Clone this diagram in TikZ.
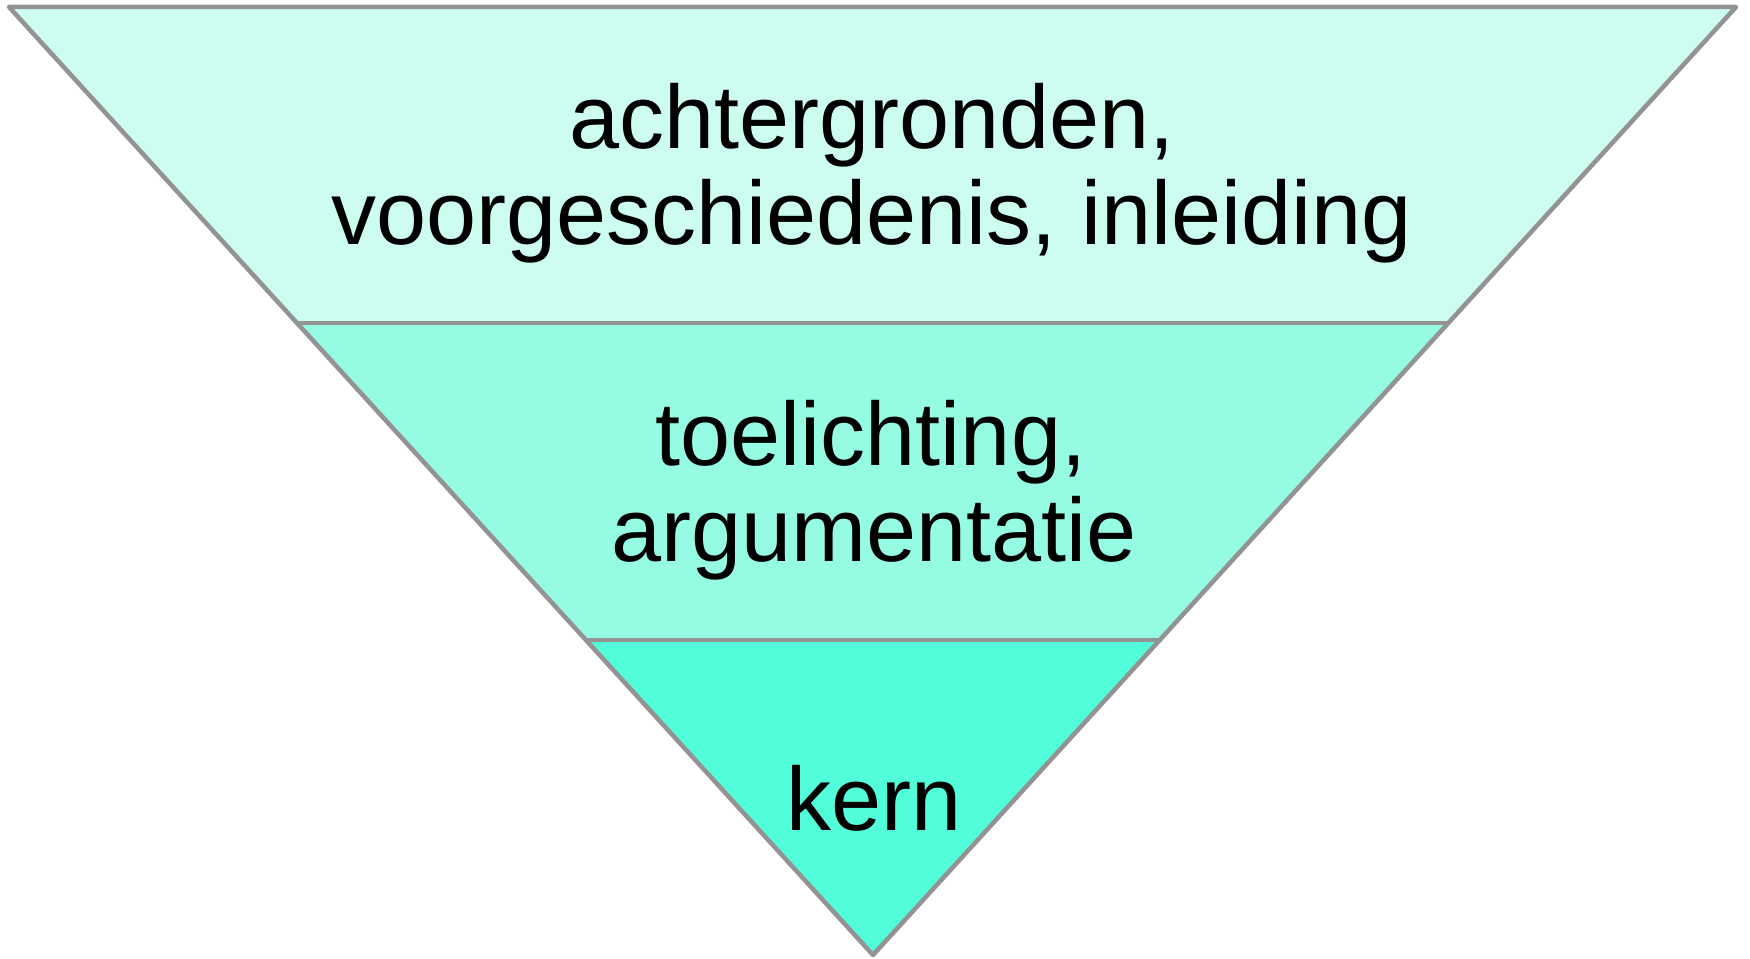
\documentclass[tikz,border=0pt]{standalone}
\usepackage{fontspec}
\setmainfont{Liberation Sans}
\definecolor{bandA}{HTML}{CCFDF0}
\definecolor{bandB}{HTML}{95FCE3}
\definecolor{bandC}{HTML}{52FDDA}
\definecolor{edge}{HTML}{939393}
\begin{document}
\begin{tikzpicture}[x=1pt,y=-1pt,
  outline/.style={draw=edge,line width=4.5pt,line join=round,line cap=round},
  label/.style={anchor=base,inner sep=0pt,font=\fontsize{90}{96}\selectfont,text=black}]
\useasboundingbox (0,0) rectangle (1750,958);
% corner coordinates
\coordinate (TL) at (9,7);
\coordinate (TR) at (1736,7);
\coordinate (AP) at (873,955);
\coordinate (L1) at (297,323);
\coordinate (R1) at (1448,323);
\coordinate (L2) at (586,640);
\coordinate (R2) at (1160,640);
% bands
\fill[bandA] (TL) -- (TR) -- (R1) -- (L1) -- cycle;
\fill[bandB] (L1) -- (R1) -- (R2) -- (L2) -- cycle;
\fill[bandC] (L2) -- (R2) -- (AP) -- cycle;
% outlines
\draw[outline] (TL) -- (TR) -- (AP) -- cycle;
\draw[outline] (L1) -- (R1);
\draw[outline] (L2) -- (R2);
% texts
\node[label] (t1) at (872,148) {achtergronden,};
\node[label] (t2) at (872,244) {voorgeschiedenis, inleiding};
\node[label] (t3) at (871,465) {toelichting,};
\node[label] (t4) at (874,561) {argumentatie};
\node[label] (t5) at (874,830) {kern};
\end{tikzpicture}
\end{document}
